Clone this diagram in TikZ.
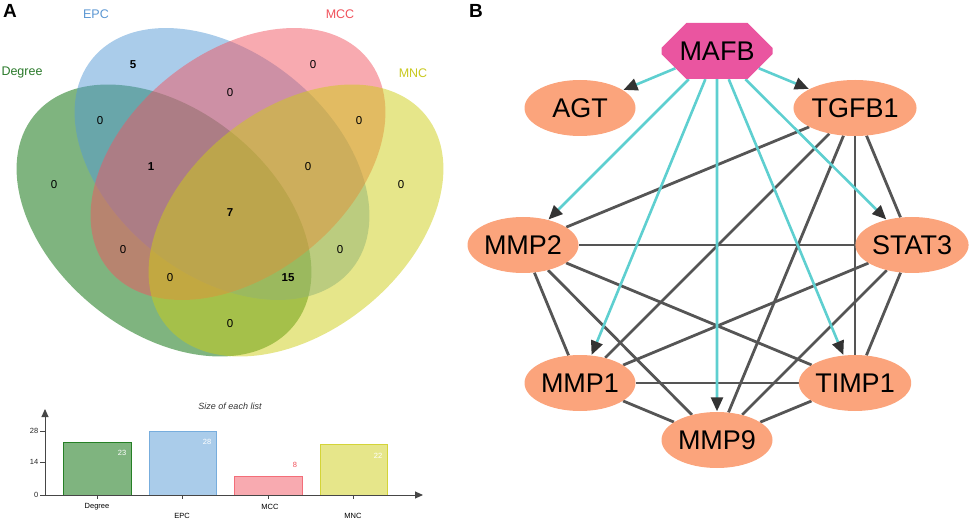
\documentclass[tikz,border=0pt]{standalone}
\usepackage{fontspec}
\setmainfont{Liberation Sans}
\usetikzlibrary{arrows.meta,shapes.geometric,shapes.misc,backgrounds}
\definecolor{vgreen}{RGB}{0,105,0}
\definecolor{vblue}{RGB}{85,153,213}
\definecolor{vred}{RGB}{241,85,97}
\definecolor{vyellow}{RGB}{205,205,21}
\definecolor{lgreen}{RGB}{40,120,40}
\definecolor{lblue}{RGB}{90,150,210}
\definecolor{lred}{RGB}{240,80,90}
\definecolor{lyellow}{RGB}{200,200,30}
\definecolor{nodefill}{RGB}{251,164,124}
\definecolor{mafbfill}{RGB}{234,85,160}
\definecolor{cyanedge}{RGB}{94,207,208}
\definecolor{grayedge}{RGB}{85,85,85}
\definecolor{axisgray}{RGB}{70,70,70}
\tikzset{
  vset/.style={fill opacity=0.5},
  vnum/.style={font=\fontsize{11.5}{11.5}\selectfont, inner sep=0},
  vbold/.style={vnum, font=\fontsize{11.5}{11.5}\selectfont\bfseries},
  setlabel/.style={font=\fontsize{12.5}{12.5}\selectfont, inner sep=0},
  panel/.style={font=\fontsize{19}{19}\selectfont\bfseries, inner sep=0},
  small/.style={font=\fontsize{7.5}{7.5}\selectfont, inner sep=0},
  bar/.style={line width=1pt},
  gene/.style={ellipse, fill=nodefill, minimum width=111pt, minimum height=56pt, inner sep=0, font=\fontsize{27}{27}\selectfont},
  tf/.style={chamfered rectangle, chamfered rectangle xsep=32pt, chamfered rectangle ysep=15.5pt, fill=mafbfill, minimum width=111pt, minimum height=56pt, inner sep=0, font=\fontsize{27}{27}\selectfont},
  reg/.style={draw=cyanedge, line width=2.6pt, -{Triangle[length=14pt,width=12pt,color=black!80]}, shorten >=0.5pt},
  ppi/.style={draw=grayedge, line width=2.8pt},
  axis/.style={draw=axisgray, line width=1pt, -{Triangle[length=8pt,width=7pt]}},
}
\begin{document}
\begin{tikzpicture}[x=1pt,y=1pt]
\useasboundingbox (0,0) rectangle (969,520);
% ---------- Panel A: Venn ----------
\fill[vgreen, vset]  (164,299.5) ellipse[x radius=167, y radius=111, rotate=-39];
\fill[vblue, vset]   (222,356) ellipse[x radius=167, y radius=111, rotate=-39];
\fill[vred, vset]    (238,356) ellipse[x radius=167, y radius=111, rotate=39];
\fill[vyellow, vset] (296,299.5) ellipse[x radius=167, y radius=111, rotate=39];
\node[panel] (labA) at (10,509) {A};
\node[setlabel, text=lgreen] (labDeg) at (22,447) {Degree};
\node[setlabel, text=lblue] (labEPC) at (96,506) {EPC};
\node[setlabel, text=lred] (labMCC) at (340,506) {MCC};
\node[setlabel, text=lyellow] (labMNC) at (413,447) {MNC};
\node[vbold] (n1) at (133,455) {5};
\node[vnum] (n2) at (313,455) {0};
\node[vnum] (n3) at (230,427) {0};
\node[vnum] (n4) at (100,399) {0};
\node[vnum] (n5) at (359,399) {0};
\node[vbold] (n6) at (151,353) {1};
\node[vnum] (n7) at (308,353) {0};
\node[vnum] (n8) at (54,335) {0};
\node[vnum] (n9) at (401,335) {0};
\node[vbold] (n10) at (230,307) {7};
\node[vnum] (n11) at (123,270) {0};
\node[vnum] (n12) at (340,270) {0};
\node[vnum] (n13) at (170,242) {0};
\node[vbold] (n14) at (288,242) {15};
\node[vnum] (n15) at (230,196) {0};
% ---------- Bar chart ----------
\node[font=\fontsize{9}{9}\selectfont\itshape, text=black!80, inner sep=0] (title) at (230,114) {Size of each list};
\coordinate (org) at (45,25);
\coordinate (ytop) at (45,111);
\coordinate (xend) at (423,25);
\fill[vgreen, vset] (63,25) rectangle (131,77.6);
\draw[bar, draw=vgreen!85!white] (63,25) rectangle (131,77.6);
\fill[vblue, vset] (149,25) rectangle (216,89);
\draw[bar, draw=vblue!80!white] (149,25) rectangle (216,89);
\fill[vred, vset] (234,25) rectangle (302,43.3);
\draw[bar, draw=vred!85!white] (234,25) rectangle (302,43.3);
\fill[vyellow, vset] (320,25) rectangle (387,75.3);
\draw[bar, draw=vyellow!85!white] (320,25) rectangle (387,75.3);
\draw[axis] (org) -- (ytop);
\draw[axis] (org) -- (xend);
\foreach \yy/\lab in {25/0,58/14,89/28}{
  \draw[axisgray, line width=0.6pt] (40,\yy) -- (45,\yy);
  \node[small, anchor=east, text=black!85] at (38.5,\yy) {\lab};
}
\foreach \xx in {97,182,268,353}{
  \draw[axisgray, line width=0.6pt] (\xx,25) -- (\xx,21);
}
\node[small, text=white] (v1) at (122,67) {23};
\node[small, text=white] (v2) at (207,78) {28};
\node[small, text=lred] (v3) at (295,55) {8};
\node[small, text=white] (v4) at (378,64) {22};
\node[small] (c1) at (97,13) {Degree};
\node[small] (c2) at (182,4) {EPC};
\node[small] (c3) at (270,13) {MCC};
\node[small] (c4) at (353,4) {MNC};
% ---------- Panel B: network ----------
\node[panel] (labB) at (476,509) {B};
\node[tf] (MAFB) at (717,469) {MAFB};
\node[gene] (AGT) at (580,412) {AGT};
\node[gene] (TGFB1) at (855,412) {TGFB1};
\node[gene] (MMP2) at (523,275) {MMP2};
\node[gene] (STAT3) at (912,275) {STAT3};
\node[gene] (MMP1) at (580,137) {MMP1};
\node[gene] (TIMP1) at (855,137) {TIMP1};
\node[gene] (MMP9) at (717,80) {MMP9};
\begin{scope}[on background layer]
\foreach \a/\b in {TGFB1/MMP2, TGFB1/MMP1, TGFB1/MMP9, TGFB1/TIMP1, TGFB1/STAT3,
                   STAT3/MMP2, STAT3/MMP1, STAT3/MMP9, STAT3/TIMP1,
                   MMP2/MMP1, MMP2/MMP9, MMP2/TIMP1,
                   MMP1/TIMP1, MMP1/MMP9, TIMP1/MMP9}{
  \draw[ppi] (\a) -- (\b);
}
\foreach \b in {AGT, TGFB1, MMP2, STAT3, MMP1, TIMP1, MMP9}{
  \draw[reg] (MAFB) -- (\b);
}
\end{scope}
\end{tikzpicture}
\end{document}
